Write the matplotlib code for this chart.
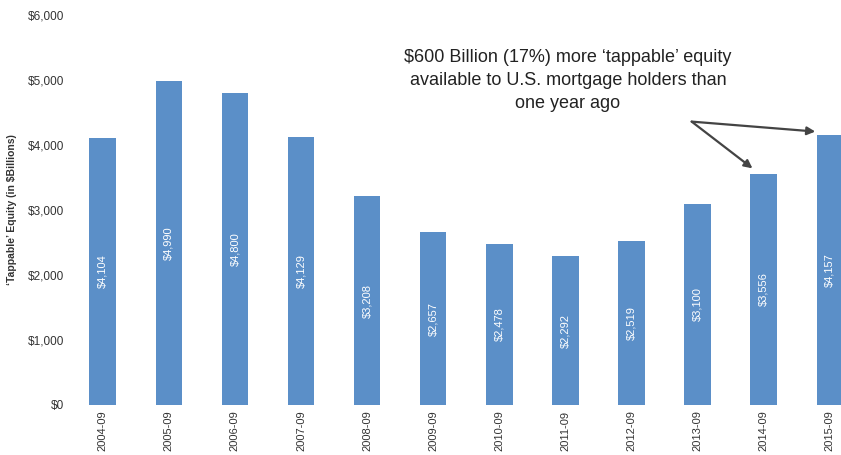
import matplotlib
matplotlib.use("Agg")
from matplotlib import pyplot as plt
import numpy as np

plt.rcParams['font.family'] = ['Liberation Sans', 'DejaVu Sans']

# tappable equity by year (in $ billions)
years = ['2004-09', '2005-09', '2006-09', '2007-09', '2008-09', '2009-09',
         '2010-09', '2011-09', '2012-09', '2013-09', '2014-09', '2015-09']
equity = [4104, 4990, 4800, 4129, 3208, 2657, 2478, 2292, 2519, 3100, 3556, 4157]
yticks = [0, 1000, 2000, 3000, 4000, 5000, 6000]

bar_color = '#5B8FC8'
txt_color = '#333333'

fig = plt.figure(figsize=(8.41, 4.55), dpi=100)
# right edge of axes goes past the figure so last bar is cut like the original
ax = fig.add_axes([0.0828, 0.1099, 0.9432, 0.8571])

x = np.arange(len(years))
bars = ax.bar(x, equity, width=0.40, color=bar_color)

for xi, v in zip(x, equity):
    ax.text(xi, v / 2, f'${v:,}', rotation=90, ha='center', va='center',
            color='white', fontsize=8)

ax.set_xlim(-0.5, len(years) - 0.5)
ax.set_ylim(0, 6000)
ax.set_yticks(yticks)
ax.set_yticklabels([f'${t:,}' for t in yticks], fontsize=8.5, color=txt_color)
ax.set_xticks(x)
ax.set_xticklabels(years, rotation=90, fontsize=8, color=txt_color)
ax.tick_params(length=0, pad=4)
for s in ax.spines.values():
    s.set_visible(False)

ax.set_ylabel('\u2018Tappable\u2019 Equity (in $Billions)', fontsize=7.5,
              fontweight='bold', color=txt_color, labelpad=8)

# callout
ax.text(7.04, 4990,
        '$600 Billion (17%) more \u2018tappable\u2019 equity\n'
        'available to U.S. mortgage holders than\none year ago',
        ha='center', va='center', fontsize=13, color='#222222',
        linespacing=1.45)
start = (8.91, 4360)
ax.annotate('', xy=(x[-1] - 0.22, equity[-1] + 50), xytext=start,
            arrowprops=dict(arrowstyle='-|>', color='#444444', lw=1.6,
                            mutation_scale=12, shrinkA=0, shrinkB=0))
ax.annotate('', xy=(x[-2] - 0.17, equity[-2] + 85), xytext=start,
            arrowprops=dict(arrowstyle='-|>', color='#444444', lw=1.6,
                            mutation_scale=12, shrinkA=0, shrinkB=0))

plt.savefig('out.png', dpi=100)
